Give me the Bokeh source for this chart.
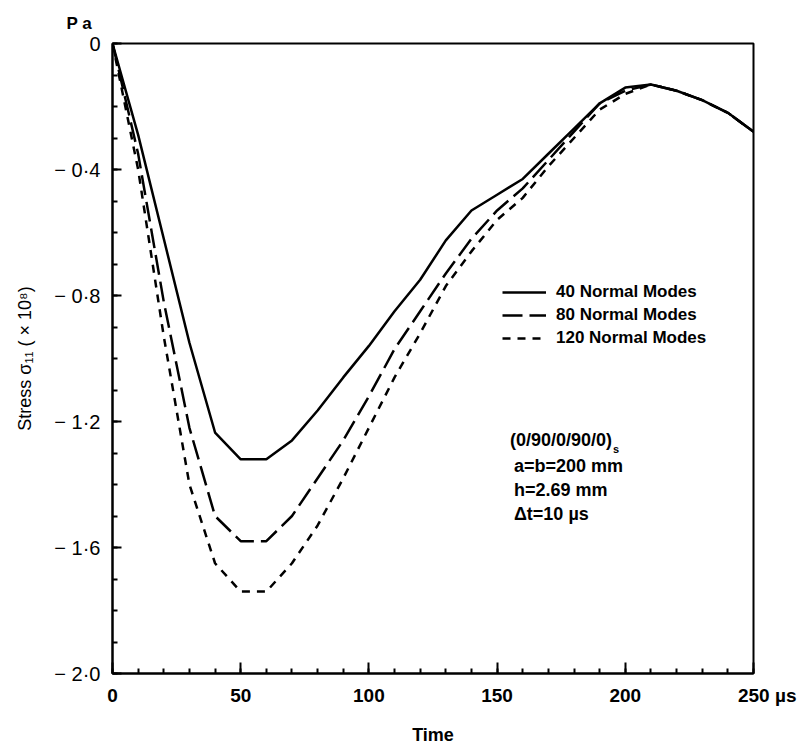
from bokeh.plotting import figure
from bokeh.models import FixedTicker, Label, Legend, LegendItem, Range1d, Title
from bokeh.embed import file_html
from bokeh.resources import INLINE

# ---------------- data ----------------
time_us = [0, 10, 20, 30, 40, 50, 60, 70, 80, 90, 100, 110, 120, 130, 140,
           150, 160, 170, 180, 190, 200, 210, 220, 230, 240, 250]
modes40 = [0.0, -0.29, -0.62, -0.95, -1.235, -1.32, -1.32, -1.26, -1.165, -1.06,
           -0.96, -0.85, -0.75, -0.625, -0.53, -0.48, -0.43, -0.35, -0.27, -0.19,
           -0.14, -0.13, -0.15, -0.18, -0.22, -0.28]
modes80 = [0.0, -0.35, -0.82, -1.22, -1.5, -1.58, -1.58, -1.5, -1.38, -1.26,
           -1.12, -0.97, -0.85, -0.73, -0.62, -0.53, -0.46, -0.37, -0.28, -0.19,
           -0.15, -0.13, -0.15, -0.18, -0.22, -0.28]
modes120 = [0.0, -0.40, -0.93, -1.40, -1.65, -1.74, -1.74, -1.65, -1.53, -1.38,
            -1.22, -1.06, -0.92, -0.77, -0.66, -0.56, -0.49, -0.39, -0.30, -0.21,
            -0.16, -0.13, -0.15, -0.18, -0.22, -0.28]

x_ticks = [0, 50, 100, 150, 200, 250]
x_tick_labels = ["0", "50", "100", "150", "200",
                 "\u2007\u2007\u2004250 \u00b5s"]
x_minor = [0, 10, 20, 30, 40, 50, 60, 70, 80, 90, 100, 110, 120, 130, 140, 150,
           160, 170, 180, 190, 200, 210, 220, 230, 240, 250]
y_ticks = [-2.0, -1.6, -1.2, -0.8, -0.4, 0.0]
y_tick_labels = ["\u2212 2\u00b70", "\u2212 1\u00b76", "\u2212 1\u00b72",
                 "\u2212 0\u00b78", "\u2212 0\u00b74", "0"]
y_minor = [-2.0, -1.9, -1.8, -1.7, -1.6, -1.5, -1.4, -1.3, -1.2, -1.1, -1.0,
           -0.9, -0.8, -0.7, -0.6, -0.5, -0.4, -0.3, -0.2, -0.1, 0.0]
legend_labels = ["40 Normal Modes", "80 Normal Modes", "120 Normal Modes"]
annotation_lines = ["a=b=200  mm", "h=2.69  mm", "\u0394t=10 \u00b5s"]
layup_text = "(0/90/0/90/0)"
layup_sub = "s"
unit_text = "P a"

F = "Liberation Sans"

p = figure(width=809, height=749, output_backend="svg", toolbar_location=None,
           x_range=Range1d(0, 250), y_range=Range1d(-2.0, 0.0),
           min_border_left=112, min_border_right=56, min_border_top=43,
           min_border_bottom=76)
p.title = Title(text=unit_text, align="left", offset=-46, text_font=F,
                text_font_style="bold", text_font_size="17px",
                text_color="black", standoff=22)
p.grid.visible = False
p.outline_line_color = "black"
p.outline_line_width = 2
p.background_fill_color = "white"
p.border_fill_color = "white"

# x axis
xa = p.xaxis[0]
xa.ticker = FixedTicker(ticks=x_ticks, minor_ticks=x_minor)
xa.major_label_overrides = {t: l for t, l in zip(x_ticks, x_tick_labels)}
xa.axis_line_width = 2
xa.major_tick_in = 11
xa.major_tick_out = 0
xa.minor_tick_in = 5
xa.minor_tick_out = 0
xa.major_tick_line_width = 2
xa.minor_tick_line_width = 2
xa.major_label_text_font = F
xa.major_label_text_font_style = "bold"
xa.major_label_text_font_size = "19px"
xa.major_label_text_color = "black"
xa.major_label_standoff = 11
xa.axis_label = "Time"
xa.axis_label_text_font = F
xa.axis_label_text_font_style = "bold"
xa.axis_label_text_font_size = "18px"
xa.axis_label_text_color = "black"
xa.axis_label_standoff = 16

# y axis
ya = p.yaxis[0]
ya.ticker = FixedTicker(ticks=y_ticks, minor_ticks=y_minor)
ya.major_label_overrides = {t: l for t, l in zip(y_ticks, y_tick_labels)}
ya.axis_line_width = 2
ya.major_tick_in = 9
ya.major_tick_out = 0
ya.minor_tick_in = 5
ya.minor_tick_out = 0
ya.major_tick_line_width = 2
ya.minor_tick_line_width = 2
ya.major_label_text_font = F
ya.major_label_text_font_size = "20px"
ya.major_label_text_color = "black"
ya.major_label_standoff = 12
ya.axis_label = "Stress \u03c3\u2081\u2081 ( \u00d7 10\u2078)"
ya.axis_label_text_font = F
ya.axis_label_text_font_style = "normal"
ya.axis_label_text_font_size = "18px"
ya.axis_label_text_color = "black"
ya.axis_label_standoff = 16

# curves
r40 = p.line(time_us, modes40, line_color="black", line_width=2.5)
r80 = p.line(time_us, modes80, line_color="black", line_width=2.5, line_dash="20 7")
r120 = p.line(time_us, modes120, line_color="black", line_width=2.5, line_dash="8 7")

legend = Legend(items=[LegendItem(label=legend_labels[0], renderers=[r40]),
                       LegendItem(label=legend_labels[1], renderers=[r80]),
                       LegendItem(label=legend_labels[2], renderers=[r120])],
                location=(390, 325), glyph_width=44, glyph_height=20,
                label_standoff=10, spacing=3, padding=0, margin=0,
                border_line_color=None, background_fill_alpha=0,
                label_text_font=F, label_text_font_style="bold",
                label_text_font_size="17px", label_text_color="black",
                label_height=20)
p.add_layout(legend, "center")

# annotation block
p.add_layout(Label(x=155, y=-1.26, text=layup_text, text_font=F,
                   text_font_style="bold", text_font_size="18px",
                   text_baseline="middle", text_color="black"))
p.add_layout(Label(x=155, y=-1.26, x_offset=103, y_offset=-9, text=layup_sub,
                   text_font=F, text_font_style="bold", text_font_size="11px",
                   text_baseline="middle", text_color="black"))
for i, line in enumerate(annotation_lines):
    p.add_layout(Label(x=155, y=-1.26, x_offset=4, y_offset=-26 - 24 * i,
                       text=line, text_font=F, text_font_style="bold",
                       text_font_size="18px", text_baseline="middle",
                       text_color="black"))

open("out.html", "w").write(file_html(p, INLINE))
